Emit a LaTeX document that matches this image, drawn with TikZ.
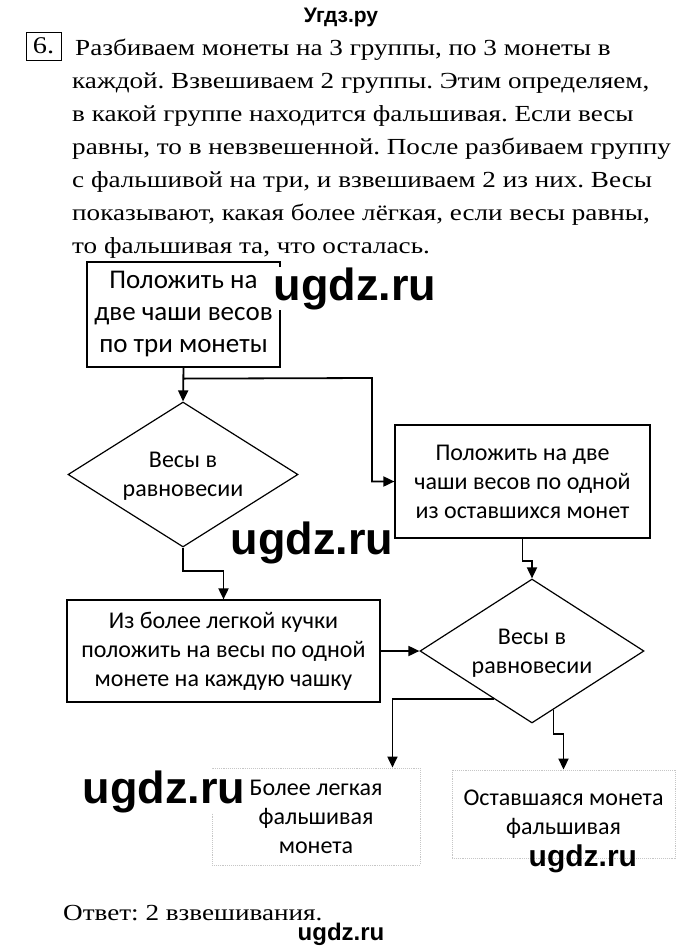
\documentclass[tikz,border=0pt]{standalone}
\usepackage{fontspec}
\setmainfont[FakeStretch=1.18]{Liberation Serif}
\newfontfamily\flowfont{Carlito}
\newfontfamily\wmfont{Liberation Sans}
\usetikzlibrary{shapes.geometric,arrows.meta,calc}
\frenchspacing
\begin{document}
\begin{tikzpicture}[x=1pt,y=-1pt,
  para/.style={anchor=base west, inner sep=0pt, font=\fontsize{23}{33}\selectfont},
  flowtxt/.style={align=center, inner sep=0pt, font=\flowfont\fontsize{24}{29}\selectfont},
  box/.style={flowtxt, draw=black, line width=1.2pt, fill=white},
  faintbox/.style={flowtxt, draw=gray!45, line width=0.9pt, densely dotted, fill=white},
  dec/.style={diamond, draw=black, line width=1.2pt, inner sep=0pt, fill=white},
  arr/.style={line width=1.8pt, -{Triangle[length=11pt,width=10pt]}},
  wm/.style={anchor=base west, inner sep=0.5pt, fill=white, font=\wmfont\bfseries\fontsize{45}{45}\selectfont}
]
\useasboundingbox (0,0) rectangle (680,948);
\fill[white] (0,0) rectangle (680,948);

% header
\node[anchor=base, inner sep=0pt, font=\wmfont\bfseries\fontsize{21}{21}\selectfont] (hdr) at (341,22) {Угдз.ру};

% task number
\node[draw=black, line width=0.8pt, minimum width=35pt, minimum height=28pt, inner sep=0pt,
      font=\fontsize{24}{24}\selectfont] (num) at (43.5,46) {6.};

% paragraph
\node[para] (t1) at (75,55)  {Разбиваем монеты на 3 группы, по 3 монеты в};
\node[para] (t2) at (72,88)  {каждой. Взвешиваем 2 группы. Этим определяем,};
\node[para] (t3) at (72,121) {в какой группе находится фальшивая. Если весы};
\node[para] (t4) at (72,154) {равны, то в невзвешенной. После разбиваем группу};
\node[para] (t5) at (72,187) {с фальшивой на три, и взвешиваем 2 из них. Весы};
\node[para] (t6) at (72,220) {показывают, какая более лёгкая, если весы равны,};
\node[para] (t7) at (72,253) {то фальшивая та, что осталась.};

% flowchart
\node[box, minimum width=193pt, minimum height=105pt, font=\flowfont\fontsize{27}{32}\selectfont]
  (b1) at (183.5,314.5) {Положить на\\две чаши весов\\по три монеты};

\node[dec, minimum width=230pt, minimum height=145pt] (d1) at (183,474.5) {};
\node[flowtxt] (d1t) at (183,476) {Весы в\\равновесии};

\node[box, minimum width=255pt, minimum height=113pt] (b2) at (522.5,481.5)
  {Положить на две\\чаши весов по одной\\из оставшихся монет};

\node[box, minimum width=313pt, minimum height=102pt] (b3) at (223.5,651)
  {Из более легкой кучки\\положить на весы по одной\\монете на каждую чашку};

\node[dec, minimum width=224pt, minimum height=144pt] (d2) at (532,651) {};
\node[flowtxt] (d2t) at (532,653) {Весы в\\равновесии};

\node[faintbox, minimum width=208pt, minimum height=97pt] (b4) at (316,816.5)
  {Более легкая\\фальшивая\\монета};
\node[faintbox, minimum width=223pt, minimum height=88pt] (b5) at (563.5,814)
  {Оставшаяся монета\\фальшивая};

% connectors
\coordinate (j1) at ($(b1.south)+(0,11)$);
\coordinate (k1) at (372,378);
\draw[arr] (b1.south) -- (d1.north);
\draw[arr] (j1) -- (k1) |- (b2.west);
\draw[arr] (d1.south) -- ++(0,23) -| (b3.north);
\draw[arr] (b3.east) -- (d2.west);
\draw[arr] (b2.south) -- ++(0,22) -| (d2.north);
\coordinate (l4) at ($(b4.north east)+(-28,0)$);
\draw[arr] (d2.232) -| (l4);
\draw[arr] (d2.-70) -- ++(0,24) -| (b5.north);

% answer
\node[para] (ans) at (63,920) {Ответ: 2 взвешивания.};

% watermarks
\node[wm] (w1) at (273,300) {ugdz.ru};
\node[wm] (w2) at (230,554) {ugdz.ru};
\node[wm] (w3) at (82,803) {ugdz.ru};
\node[wm, fill=none, font=\wmfont\bfseries\fontsize{30}{30}\selectfont] (w4) at (528,866) {ugdz.ru};
\node[wm, font=\wmfont\bfseries\fontsize{24}{24}\selectfont] (w5) at (297,940) {ugdz.ru};
\end{tikzpicture}
\end{document}
